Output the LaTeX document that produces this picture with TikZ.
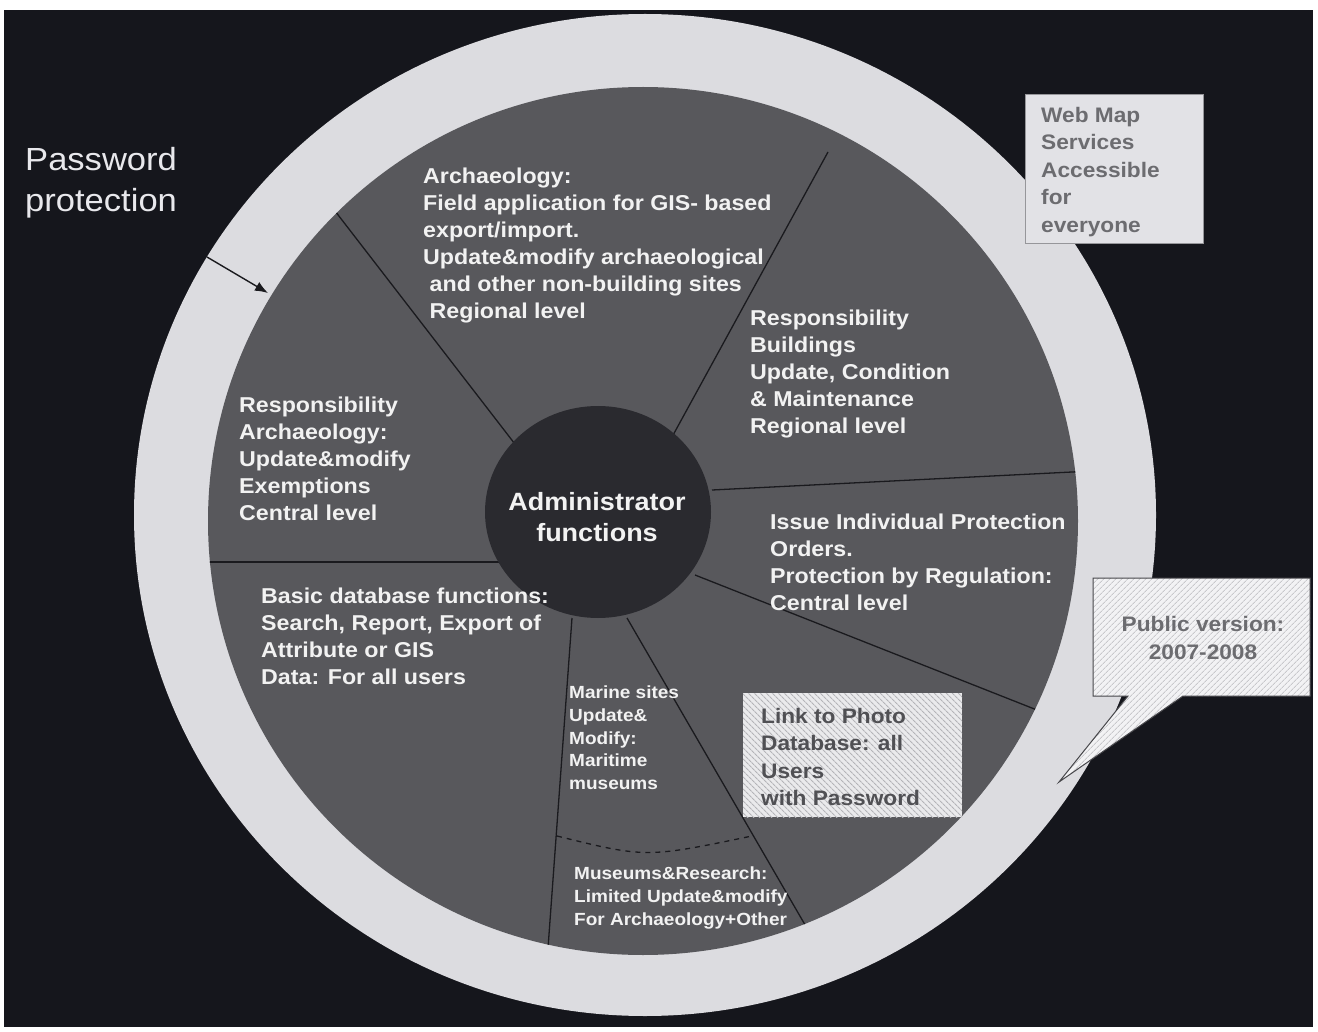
\documentclass[tikz,border=0pt]{standalone}
\usepackage{fontspec}
\setmainfont{Liberation Sans}[FakeStretch=1.08]
\usetikzlibrary{patterns.meta,arrows.meta}
\definecolor{bgdark}{HTML}{15161C}
\definecolor{ringlight}{HTML}{DCDCE0}
\definecolor{wheelgray}{HTML}{58585C}
\definecolor{hubdark}{HTML}{2A2A2F}
\definecolor{spoke}{HTML}{1A1A1E}
\definecolor{txtwhite}{HTML}{F2F2F2}
\definecolor{boxgray}{HTML}{E2E2E6}
\definecolor{boxtext}{HTML}{6C6C70}
\definecolor{linktext}{HTML}{505054}
\definecolor{stripegray}{HTML}{B4B4B8}
\definecolor{stripelight}{HTML}{C8C8CC}
\begin{document}
\begin{tikzpicture}[x=1pt,y=-1pt,
  wheeltext/.style={anchor=north west, inner sep=0pt, align=left, text=txtwhite,
    font=\bfseries\fontsize{21.5}{27}\selectfont},
  smalltext/.style={anchor=north west, inner sep=0pt, align=left, text=txtwhite,
    font=\bfseries\fontsize{17.6}{22.6}\selectfont},
  graytext/.style={anchor=north west, inner sep=0pt, align=left, text=boxtext,
    font=\bfseries\fontsize{21}{27.5}\selectfont},
  spokeline/.style={draw=spoke, line width=1.3pt},
]
\useasboundingbox (0,0) rectangle (1318,1032);
\fill[white] (0,0) rectangle (1318,1032);
\fill[bgdark] (4,10) rectangle (1313,1027);

% rings
\fill[ringlight] (645,515) ellipse [x radius=511pt, y radius=501pt];
\fill[wheelgray] (643,521) ellipse [x radius=435pt, y radius=434pt];

% spokes
\coordinate (s1a) at (518,448); \coordinate (s1b) at (325,198);
\coordinate (s2a) at (672,437); \coordinate (s2b) at (828,152);
\coordinate (s3a) at (712,490); \coordinate (s3b) at (1092,471);
\coordinate (s4a) at (695,575); \coordinate (s4b) at (1042,712);
\coordinate (s5a) at (627,618); \coordinate (s5b) at (815,942);
\coordinate (s6a) at (572,618); \coordinate (s6b) at (547,962);
\coordinate (s7a) at (500,562); \coordinate (s7b) at (198,562);
\begin{scope}
  \clip (643,521) ellipse [x radius=435pt, y radius=434pt];
  \draw[spokeline] (s1a) -- (s1b);
  \draw[spokeline] (s2a) -- (s2b);
  \draw[spokeline] (s3a) -- (s3b);
  \draw[spokeline] (s4a) -- (s4b);
  \draw[spokeline] (s5a) -- (s5b);
  \draw[spokeline] (s6a) -- (s6b);
  \draw[spokeline] (s7a) -- (s7b);
\end{scope}

% dashed boundary between marine and museums
\coordinate (d1) at (557,836); \coordinate (d2) at (752,836);
\draw[spoke, line width=1.3pt, dash pattern=on 5pt off 5pt] (d1) .. controls (646,858) .. (d2);

% hub
\fill[hubdark] (598,512) ellipse [x radius=113pt, y radius=106pt];
\node[align=center, inner sep=0pt, text=txtwhite, font=\bfseries\fontsize{25}{31.5}\selectfont, anchor=north] (hub) at (597,492) {Administrator\\functions};

% sector texts
\node[wheeltext] (archfield) at (423,168) {Archaeology:\\Field application for GIS- based\\export/import.\\Update\&modify archaeological\\\ and other non-building sites\\\ Regional level};
\node[wheeltext] (buildings) at (750,310) {Responsibility\\Buildings\\Update, Condition\\\& Maintenance\\Regional level};
\node[wheeltext] (resparch) at (239,397) {Responsibility\\Archaeology:\\Update\&modify\\Exemptions\\Central level};
\node[wheeltext] (issue) at (770,514) {Issue Individual Protection\\Orders.\\Protection by Regulation:\\Central level};
\node[wheeltext] (basic) at (261,588) {Basic database functions:\\Search, Report, Export of\\Attribute or GIS\\Data: For all users};
\node[smalltext] (marine) at (569,686) {Marine sites\\Update\&\\Modify:\\Maritime\\museums};
\node[smalltext] (museums) at (574,867) {Museums\&Research:\\Limited Update\&modify\\For Archaeology+Other};

% link to photo box
\path[fill={rgb,255:red,234;green,234;blue,236}] (743,693) rectangle (962,817);
\path[pattern={Lines[angle=-45, distance=4pt, line width=1.1pt]}, pattern color=stripegray] (743,693) rectangle (962,817);
\node[graytext, text=linktext] (link) at (761,708) {Link to Photo\\Database: all\\Users\\with Password};

% web map box
\draw[fill=boxgray, draw={rgb,255:red,150;green,150;blue,154}, line width=0.8pt] (1025,94) rectangle (1203,243);
\node[graytext] (webmap) at (1041,107) {Web Map\\Services\\Accessible\\for\\everyone};

% callout
\coordinate (tip) at (1059,782);
\path[fill={rgb,255:red,242;green,242;blue,244}] (1093,578) -- (1310,578) -- (1310,696) -- (1183,696) -- (tip) -- (1128,696) -- (1093,696) -- cycle;
\draw[pattern={Lines[angle=45, distance=4pt, line width=1pt]}, pattern color=stripelight, draw={rgb,255:red,70;green,70;blue,74}, line width=1pt, line join=miter] (1093,578) -- (1310,578) -- (1310,696) -- (1183,696) -- (tip) -- (1128,696) -- (1093,696) -- cycle;
\node[align=center, inner sep=0pt, text=boxtext, font=\bfseries\fontsize{21}{28}\selectfont, anchor=north] (public) at (1203,616) {Public version:\\2007-2008};

% password protection
\node[anchor=north west, inner sep=0pt, align=left, text={rgb,255:red,232;green,232;blue,236}, font=\fontsize{32}{41}\selectfont] (password) at (25,147) {Password\\protection};
\coordinate (pwtail) at (207,257);
\coordinate (pwhead) at (268,293);
\draw[spoke, line width=1.4pt, -{Latex[length=13pt, width=10pt]}] (pwtail) -- (pwhead);
\end{tikzpicture}
\end{document}
